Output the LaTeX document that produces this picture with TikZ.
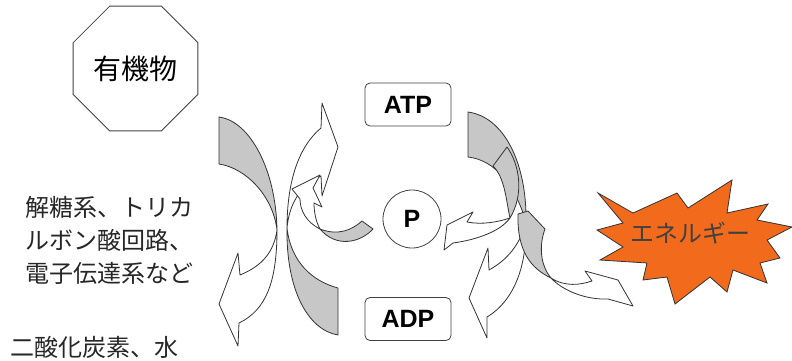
\documentclass[tikz,border=0pt]{standalone}
\usepackage{fontspec}
\setmainfont{Liberation Sans}
\newfontfamily\jp{Noto Sans CJK JP}
\usepackage{tikz}
\usetikzlibrary{shapes.geometric}
\definecolor{blast}{HTML}{F26B1D}

\begin{document}
\begin{tikzpicture}[
    x=1pt,y=-1pt,
    every node/.style={inner sep=0pt},
    jtext/.style={font=\jp\fontsize{24}{33}\selectfont,align=left,text=black!85},
    molbox/.style={draw=black!75,line width=0.8pt,rounded corners=5pt,
                   minimum width=86pt,minimum height=43pt,
                   font=\bfseries\fontsize{25}{28}\selectfont},
    backside/.style={draw=black!80,line width=0.8pt,fill=black!22,line join=round},
    frontside/.style={draw=black!80,line width=0.8pt,fill=white,line join=round},
  ]
  \useasboundingbox (0,0) rectangle (792,360);

  % -- left: food is broken down --
  \node[draw=black!75,line width=0.8pt,regular polygon,regular polygon sides=8,
        minimum size=135pt,font=\jp\fontsize{28}{32}\selectfont] (org) at (135.5,68.5) {有機物};
  \node[jtext,anchor=west] (proc) at (25,240) {解糖系、トリカ\\ルボン酸回路、\\電子伝達系など};
  \node[jtext,anchor=west] (co2) at (10,347) {二酸化炭素、水};

  % -- the molecules --
  \node[molbox] (atp) at (408,104.5) {ATP};
  \node[molbox] (adp) at (408,319) {ADP};
  \node[draw=black!75,line width=0.8pt,circle,minimum size=58pt,
        font=\bfseries\fontsize{25}{28}\selectfont] (pi) at (412,219) {P};

  % -- left pair of bent arrows --
  \draw[backside] (219,117) .. controls (250,121) and (276,170) .. (277,230)
        .. controls (273,196) and (246,168) .. (219,164) -- cycle;
  \draw[frontside] (277,230) .. controls (277,282) and (266,310) .. (239,323)
        -- (238,346) -- (219,304) -- (238,253) -- (240,275)
        .. controls (262,266) and (274,252) .. (277,230) -- cycle;
  \draw[backside] (338,335) -- (338,288) .. controls (312,281) and (291,262) .. (287,228)
        .. controls (286,290) and (308,330) .. (338,335) -- cycle;
  \draw[frontside] (287,228) .. controls (287,185) and (297,148) .. (321,128)
        -- (322,103) -- (338,147) -- (322,196) -- (321,176)
        .. controls (300,185) and (289,205) .. (287,228) -- cycle;
  \draw[backside] (320,229) .. controls (338,236) and (352,230) .. (362,221)
        -- (373,229) .. controls (360,243) and (336,248) .. (320,229) -- cycle;
  \draw[frontside] (320,229) .. controls (306,222) and (300,210) .. (300,199)
        -- (292,189) -- (320,175) -- (313,188) -- (322,207) -- (314,203)
        .. controls (314,212) and (316,222) .. (320,229) -- cycle;

  % -- right: ATP splits --
  \draw[backside] (468,112) .. controls (505,117) and (527,165) .. (526,222)
        .. controls (515,185) and (495,160) .. (468,157) -- cycle;
  \draw[frontside] (526,222) .. controls (527,265) and (515,300) .. (487,317)
        -- (487,338) -- (469,298) -- (488,248) -- (489,270)
        .. controls (507,260) and (520,245) .. (526,222) -- cycle;
  \draw[backside] (493,166) -- (507,147) .. controls (520,165) and (524,195) .. (510,218)
        .. controls (506,200) and (505,178) .. (493,166) -- cycle;
  \draw[frontside] (510,218) .. controls (498,222) and (482,225) .. (467,222)
        -- (473,212) -- (447,225) -- (444,250) -- (453,243)
        .. controls (475,240) and (500,232) .. (510,218) -- cycle;
  \draw[backside] (518,214) -- (528,211) -- (545,229) .. controls (539,245) and (540,265) .. (551,278)
        .. controls (530,268) and (517,250) .. (518,214) -- cycle;
  \draw[frontside] (551,278) .. controls (565,287) and (580,285) .. (592,281)
        -- (585,271) -- (618,280) -- (633,306) -- (608,299)
        .. controls (585,300) and (562,290) .. (551,278) -- cycle;

  % -- the released energy --
  \draw[draw=black!80,line width=0.8pt,fill=blast,line join=miter]
        (598,193) -- (633,213) -- (677,193) -- (688,208) -- (732,180) -- (727,213)
        -- (768,204) -- (757,220) -- (792,227) -- (767,240) -- (780,258) -- (760,263)
        -- (767,283) -- (733,270) -- (727,292) -- (710,277) -- (675,304) -- (667,277)
        -- (643,280) -- (647,263) -- (600,260) -- (623,247) -- (597,230) -- (623,223) -- cycle;
  \node[font=\jp\fontsize{24}{28}\selectfont,text=black!75] (energy) at (690,233) {エネルギー};
\end{tikzpicture}
\end{document}
